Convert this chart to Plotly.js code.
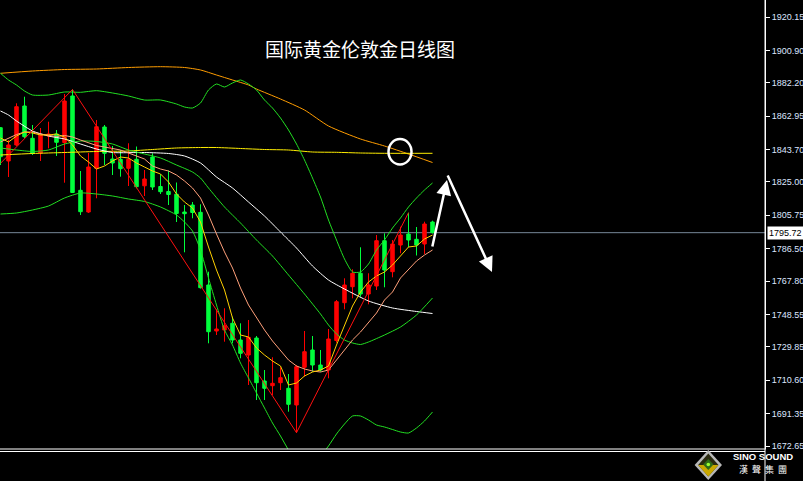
<!DOCTYPE html>
<html>
<head>
<meta charset="utf-8">
<script src="https://cdn.plot.ly/plotly-3.0.1.min.js"></script>
<style>
html,body{margin:0;padding:0;background:#000;}
#chart{width:803px;height:481px;}
</style>
</head>
<body>
<div id="chart"></div>
<script>
// ---- candle data (daily bars, index 0..54) ----
const bars = [0,1,2,3,4,5,6,7,8,9,10,11,12,13,14,15,16,17,18,19,20,21,22,23,24,25,26,27,28,29,30,31,32,33,34,35,36,37,38,39,40,41,42,43,44,45,46,47,48,49,50,51,52,53,54];
const openP = [1856.29,1837.08,1846.31,1868.81,1850.17,1841.69,1851.50,1852.65,1847.75,1874.58,1820.17,1807.65,1832.86,1856.69,1838.23,1838.06,1832.86,1838.06,1822.77,1839.38,1822.36,1819.48,1817.92,1807.65,1811.69,1807.48,1765.54,1739.00,1739.58,1743.44,1733.81,1725.15,1734.96,1710.15,1707.44,1709.17,1705.94,1696.31,1718.06,1728.04,1719.38,1716.50,1733.52,1755.33,1764.56,1772.29,1760.34,1764.96,1791.10,1773.21,1788.61,1794.96,1791.90,1789.19,1801.88];
const highP = [1856.69,1849.19,1870.36,1874.17,1857.84,1856.11,1859.75,1854.96,1875.73,1878.33,1831.31,1841.69,1860.73,1857.84,1845.73,1843.42,1847.29,1845.44,1831.88,1841.52,1829.46,1831.60,1824.67,1811.69,1813.42,1812.09,1773.21,1751.52,1752.10,1747.25,1743.44,1745.35,1736.11,1716.50,1723.83,1718.06,1714.19,1719.38,1739.00,1736.11,1728.04,1740.15,1756.88,1769.40,1774.60,1787.29,1772.29,1794.38,1795.36,1791.50,1799.17,1807.25,1799.00,1802.06,1802.63];
const lowP = [1834.77,1827.85,1845.73,1850.35,1840.54,1837.08,1844.40,1839.96,1824.56,1818.61,1805.92,1807.08,1815.56,1834.77,1829.00,1828.02,1822.65,1821.33,1816.88,1820.35,1818.04,1811.69,1801.88,1784.40,1804.02,1763.52,1731.90,1736.69,1732.83,1731.90,1723.25,1707.85,1699.19,1699.19,1702.08,1704.96,1692.44,1680.33,1712.63,1715.52,1715.52,1711.71,1732.25,1751.52,1757.87,1758.79,1754.40,1762.65,1764.21,1769.98,1783.83,1787.46,1782.56,1783.42,1795.25];
const closeP = [1839.56,1846.31,1868.40,1851.09,1841.52,1852.08,1852.65,1847.86,1871.69,1818.90,1807.83,1833.61,1856.86,1841.52,1835.92,1832.63,1838.06,1822.25,1826.69,1822.08,1819.37,1817.75,1806.79,1806.67,1807.36,1763.98,1738.59,1740.15,1742.06,1733.81,1726.13,1735.36,1709.17,1705.94,1708.83,1712.06,1696.71,1718.40,1727.06,1719.38,1716.50,1734.38,1755.90,1765.54,1772.29,1760.34,1765.54,1791.10,1774.19,1789.19,1794.38,1791.50,1788.61,1800.73,1795.72];

// ---- indicator lines ----
const orangeX = [0,4,8,12,16,20,23,25,27,29,31,32,35,38,41,45,48,51,54];
const orangeY = [1887.67,1889.00,1889.86,1890.15,1891.02,1891.48,1891.02,1889.58,1886.69,1883.81,1880.92,1878.61,1872.84,1866.50,1857.27,1849.77,1845.73,1841.11,1836.21];

const yellowX = [0,4,8,12,16,19,22,25,27,30,33,36,39,42,45,48,54];
const yellowY = [1840.54,1841.40,1841.98,1842.56,1842.84,1843.71,1844.58,1844.86,1844.86,1844.29,1843.71,1843.42,1842.27,1842.09,1841.69,1841.52,1841.52];

const whiteX = [0,1,2,4,6,8,10,12,14,18,21,23,25,27,29,31,33,35,37,39,41,43,46,49,52,54];
const whiteY = [1865.92,1863.61,1860.15,1854.38,1851.50,1849.77,1846.88,1844.00,1841.98,1841.98,1841.40,1839.96,1835.92,1827.84,1821.50,1813.42,1805.34,1796.11,1786.88,1776.50,1768.42,1763.23,1756.31,1752.27,1750.25,1749.09];

const upperX = [0,1,2,3,4,6,8,10,12,14,16,18,20,22,23,24,25,26,27,28,29,30,31,32,33,34,35,36,37,38,39,40,41,42,43,44,45,46,47,48,49,50,51,52,53,54];
const upperY = [1887.67,1883.81,1880.92,1877.46,1875.15,1875.15,1876.88,1876.71,1877.63,1876.31,1874.58,1872.27,1872.27,1869.96,1868.23,1867.65,1870.54,1878.04,1881.50,1879.77,1882.08,1883.81,1881.50,1878.04,1872.27,1867.65,1861.88,1854.96,1846.88,1837.65,1827.27,1816.31,1803.04,1791.50,1780.54,1773.04,1773.04,1777.65,1785.73,1791.50,1798.42,1804.19,1810.54,1815.73,1820.34,1824.38];

const midX = [0,2,4,6,8,10,12,14,16,18,20,22,24,25,26,28,30,32,34,36,38,40,41,42,43,44,45,46,48,50,52,54];
const midY = [1844.58,1843.42,1842.56,1843.42,1846.88,1848.61,1848.33,1846.88,1843.42,1841.11,1838.81,1834.77,1830.73,1827.27,1821.50,1810.54,1801.31,1791.50,1782.27,1771.31,1760.34,1748.81,1742.46,1737.27,1733.81,1732.08,1731.21,1732.65,1736.69,1741.31,1748.23,1758.04];

const lowerX = [0,2,4,6,8,10,12,14,16,18,20,22,23,24,25,26,27,28,29,30,31,32,33,34,35,36,37,38,39,40,41,42,43,44,45,46,47,48,49,50,51,52,53,54];
const lowerY = [1806.50,1807.08,1808.81,1811.11,1815.73,1818.61,1818.04,1816.88,1815.15,1813.71,1810.54,1805.92,1801.88,1796.69,1785.73,1769.58,1754.00,1739.58,1730.92,1720.54,1711.88,1703.23,1694.58,1685.92,1678.42,1670.34,1663.42,1659.96,1662.27,1666.88,1672.65,1679.58,1685.34,1689.96,1689.96,1687.65,1684.77,1683.61,1682.17,1680.73,1680.15,1683.04,1687.08,1692.27];

const salmonY = [1848.04,1850.34,1852.36,1853.81,1853.81,1852.65,1851.79,1851.21,1851.79,1850.92,1849.19,1847.46,1846.02,1845.15,1844.29,1843.42,1841.69,1839.96,1838.23,1834.19,1832.46,1831.31,1829.00,1825.54,1821.50,1815.73,1805.92,1794.96,1784.58,1775.34,1763.81,1754.00,1746.50,1739.58,1733.23,1727.46,1722.27,1718.81,1717.08,1715.92,1715.34,1716.50,1722.27,1728.04,1733.81,1738.42,1744.19,1749.38,1756.88,1761.50,1769.58,1774.77,1779.38,1782.84,1785.73];

const goldY = [1850.34,1848.04,1851.50,1853.81,1853.23,1852.08,1852.08,1852.65,1850.92,1846.31,1839.96,1836.50,1832.46,1834.19,1837.08,1839.38,1838.81,1835.92,1833.61,1831.31,1829.58,1824.96,1818.04,1813.42,1809.96,1801.88,1787.46,1774.19,1762.65,1746.50,1736.69,1735.54,1729.19,1725.15,1721.69,1718.81,1707.84,1709.00,1713.04,1715.34,1716.50,1718.81,1730.92,1742.46,1753.42,1761.50,1767.27,1770.73,1773.04,1777.08,1782.27,1787.46,1788.04,1792.08,1794.38];

const zigX = [0,9,37,51];
const zigY = [1835.75,1878.33,1680.33,1807.25];

// ---- axis ticks ----
const tickVals = [1920.15,1900.90,1882.20,1862.95,1843.70,1825.00,1805.75,1786.50,1767.80,1748.55,1729.85,1710.60,1691.35,1672.65];
const tickLabels = ["1920.15","1900.90","1882.20","1862.95","1843.70","1825.00","1805.75","1786.50","1767.80","1748.55","1729.85","1710.60","1691.35","1672.65"];

const titleText = "国际黄金伦敦金日线图";

// ---- geometry helpers (decoration only) ----
const W = 803, H = 481, ML = 0, MR = 38, MT = 0, MB = 32;
const PW = W - ML - MR, PH = H - MT - MB;
const px = v => (v - ML) / PW;
const py = v => 1 - (v - MT) / PH;

function lineTrace(x, y, color, shape) {
  return {type: 'scatter', mode: 'lines', x: x, y: y, hoverinfo: 'skip',
          line: {color: color, width: 1, shape: shape || 'linear', smoothing: 0.6}};
}

const traces = [
  {type: 'candlestick', x: bars, open: openP, high: highP, low: lowP, close: closeP,
   increasing: {line: {color: '#ff0000', width: 1}, fillcolor: '#ff0000'},
   decreasing: {line: {color: '#00ff3c', width: 1}, fillcolor: '#00ff3c'},
   whiskerwidth: 0, hoverinfo: 'skip'},
  lineTrace(orangeX, orangeY, '#ff9d00', 'spline'),
  lineTrace(yellowX, yellowY, '#ffee00', 'spline'),
  lineTrace(whiteX, whiteY, '#ffffff', 'spline'),
  lineTrace(upperX, upperY, '#22e022', 'spline'),
  lineTrace(midX, midY, '#22e022', 'spline'),
  lineTrace(lowerX, lowerY, '#22e022', 'spline'),
  lineTrace(bars, salmonY, '#ffa07a', 'linear'),
  lineTrace(bars, goldY, '#ffd000', 'linear'),
  lineTrace(zigX, zigY, '#ff1010', 'linear')
];

const lastClose = closeP[closeP.length - 1];

const shapes = [
  // current price line
  {type: 'line', xref: 'paper', yref: 'y', x0: 0, x1: 1, y0: lastClose, y1: lastClose,
   line: {color: '#778899', width: 1}, layer: 'below'},
  // bottom double line
  {type: 'line', xref: 'paper', yref: 'paper', x0: 0, x1: px(766), y0: py(449), y1: py(449), line: {color: '#ffffff', width: 1}},
  {type: 'line', xref: 'paper', yref: 'paper', x0: 0, x1: px(765), y0: py(451.5), y1: py(451.5), line: {color: '#ffffff', width: 1}},
  // full-height axis line
  {type: 'line', xref: 'paper', yref: 'paper', x0: px(765), x1: px(765), y0: py(481), y1: py(0), line: {color: '#ffffff', width: 1}},
  // marker circle
  {type: 'circle', xref: 'paper', yref: 'paper', x0: px(388.5), x1: px(411.5), y0: py(164.5), y1: py(139), line: {color: '#ffffff', width: 2.5}},
  // logo diamond
  {type: 'path', xref: 'paper', yref: 'paper', path: `M ${px(708.3)},${py(450)} L ${px(722)},${py(465)} L ${px(708.3)},${py(480)} L ${px(694.6)},${py(465)} Z`, fillcolor: '#b8b8b8', line: {width: 0}},
  {type: 'path', xref: 'paper', yref: 'paper', path: `M ${px(708.3)},${py(453.5)} L ${px(718.5)},${py(465)} L ${px(708.3)},${py(476.5)} L ${px(698.1)},${py(465)} Z`, fillcolor: '#2a2a10', line: {width: 0}},
  {type: 'path', xref: 'paper', yref: 'paper', path: `M ${px(698.1)},${py(465)} L ${px(718.5)},${py(465)} L ${px(708.3)},${py(476.5)} Z`, fillcolor: '#c9a800', line: {width: 0}},
  {type: 'path', xref: 'paper', yref: 'paper', path: `M ${px(708.3)},${py(459)} L ${px(713.5)},${py(464.5)} L ${px(708.3)},${py(470)} L ${px(703.1)},${py(464.5)} Z`, fillcolor: '#2f6a18', line: {width: 0}},
  {type: 'circle', xref: 'paper', yref: 'paper', x0: px(706.5), x1: px(710.1), y0: py(466.3), y1: py(462.7), fillcolor: '#99ff33', line: {width: 0}}
];

const annotations = [
  // price label box
  {xref: 'paper', yref: 'y', x: 1, y: lastClose, xanchor: 'left', yanchor: 'middle', xshift: 2,
   text: lastClose.toFixed(2), showarrow: false, bgcolor: '#ffffff', borderpad: 1,
   font: {family: 'Liberation Sans, Arial, sans-serif', size: 9, color: '#000000'}},
  // arrows
  {xref: 'paper', yref: 'paper', x: px(447), y: py(180), ax: -15, ay: 68, text: '', showarrow: true,
   arrowcolor: '#ffffff', arrowwidth: 2.5, arrowhead: 2, arrowsize: 1.2},
  {xref: 'paper', yref: 'paper', x: px(492), y: py(272), ax: -45, ay: -98, text: '', showarrow: true,
   arrowcolor: '#ffffff', arrowwidth: 2.5, arrowhead: 2, arrowsize: 1.2},
  // logo text
  {xref: 'paper', yref: 'paper', x: px(763), y: py(456.5), xanchor: 'center', yanchor: 'middle', showarrow: false,
   borderpad: 0, text: '<b>SINO SOUND</b>', font: {family: 'Liberation Sans, Arial, sans-serif', size: 9.5, color: '#ffffff'}},
  {xref: 'paper', yref: 'paper', x: px(763), y: py(469.5), xanchor: 'center', yanchor: 'middle', showarrow: false,
   borderpad: 0, text: '漢&nbsp;&nbsp;聲&nbsp;&nbsp;集&nbsp;&nbsp;團', font: {family: 'Noto Sans CJK TC, sans-serif', size: 9, color: '#ffffff'}}
];

const layout = {
  width: W, height: H,
  margin: {l: ML, r: MR, t: MT, b: MB, pad: 0},
  paper_bgcolor: '#000000', plot_bgcolor: '#000000',
  showlegend: false,
  boxgap: 0.38,
  title: {text: titleText, x: 360 / W, y: 1 - 50 / H, xanchor: 'center', yanchor: 'middle',
          font: {family: 'Noto Sans CJK SC, sans-serif', size: 19, color: '#ffffff'}},
  xaxis: {range: [-0.0625, 95.5625], showgrid: false, zeroline: false, showticklabels: false,
          ticks: '', showline: false, rangeslider: {visible: false}, fixedrange: true},
  yaxis: {side: 'right', range: [1670.92, 1929.96], tickmode: 'array', tickvals: tickVals, ticktext: tickLabels,
          showgrid: false, zeroline: false, ticks: 'outside', ticklen: 4, tickcolor: '#ffffff', tickwidth: 1,
          showline: true, linecolor: '#ffffff', linewidth: 1, automargin: false,
          tickfont: {family: 'Liberation Sans, Arial, sans-serif', size: 9, color: '#dde6ff'}},
  shapes: shapes,
  annotations: annotations
};

Plotly.newPlot('chart', traces, layout, {displayModeBar: false, staticPlot: true});
</script>
</body>
</html>
